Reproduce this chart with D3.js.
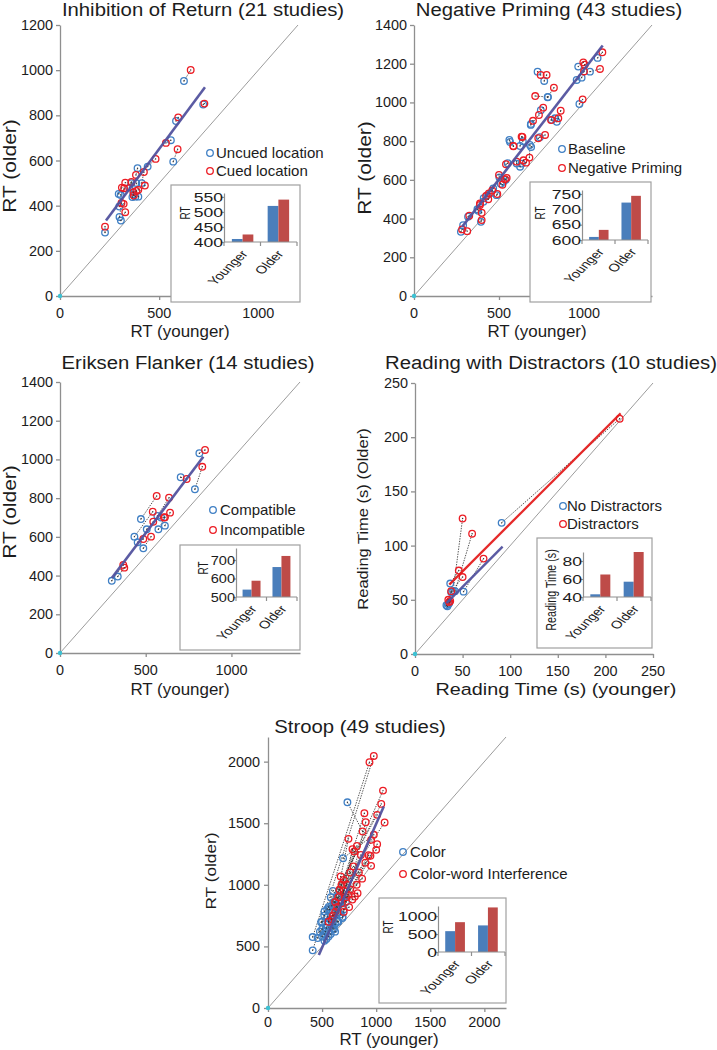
<!DOCTYPE html>
<html><head><meta charset="utf-8">
<script src="https://cdn.jsdelivr.net/npm/d3@7"></script>
<style>
body{margin:0;background:#fff}
svg{display:block}
text{font-family:Arial,"Liberation Sans",sans-serif;fill:#1c1c1c}
</style>
</head><body>
<svg id="c" width="717" height="1050"></svg>
<script>
// ---------------- DATA ----------------
const barCategories = ["Younger", "Older"];

// pairs: [baseline younger, baseline older, condition younger, condition older]
const iorNames = ["Uncued location", "Cued location"];
const iorPairs = [
  [227,281, 227,307],[625,952, 659,1001],[722,848, 728,852],[585,775, 596,791],
  [559,690, 534,678],[571,595, 593,650],[442,573, 482,607],[391,566, 383,536],
  [412,500, 423,549],[360,500, 329,502],[306,447, 323,477],[296,452, 312,480],
  [380,440, 428,489],[370,450, 372,445],[365,438, 385,465],[299,396, 321,408],
  [307,334, 329,371],[300,350, 310,412],[395,440, 370,460],[350,480, 360,505],
  [385,500, 395,470]
];
const iorFit = [[232,334],[731,924]];
const iorBarBase = [410, 520];
const iorBarCond = [425, 541];

const npNames = ["Baseline", "Negative Priming"];
const npPairs = [
  [276,332, 283,344],[289,366, 313,335],[318,410, 325,415],[394,383, 398,392],
  [378,440, 388,478],[373,448, 398,430],[408,487, 388,470],[410,505, 437,500],
  [447,529, 424,517],[466,556, 460,545],[486,521, 490,527],[502,613, 500,625],
  [526,590, 535,603],[510,580, 520,575],[551,686, 541,681],[565,796, 585,774],
  [604,684, 604,694],[624,668, 644,701],[634,684, 659,689],[624,775, 638,822],
  [561,806, 584,775],[682,780, 679,715],[689,770, 731,815],[687,884, 735,935],
  [740,820, 771,832],[788,1028, 713,1033],[727,1159, 745,1142],[766,1111, 780,1142],
  [746,960, 760,973],[829,918, 849,918],[810,910, 806,909],[840,900, 863,957],
  [786,1027, 823,1076],[966,1185, 996,1207],[957,1116, 1004,1195],[986,1128, 1000,1160],
  [1035,1159, 1094,1173],[1080,1230, 1108,1259],[973,992, 992,1016],[688,889, 700,905],
  [640,800, 633,823],[540,600, 545,610],[430,520, 440,530]
];
const npFit = [[283,357],[1110,1294]];
const npBarBase = [610, 722];
const npBarCond = [633, 744];

const efNames = ["Compatible", "Incompatible"];
const efPairs = [
  [302,373, 369,455],[337,395, 375,441],[472,692, 564,811],[434,601, 541,730],
  [453,572, 486,589],[486,541, 531,601],[506,639, 544,678],[568,708, 636,802],
  [574,639, 612,701],[612,658, 642,725],[590,700, 606,700],[704,908, 739,899],
  [787,846, 830,962],[813,1032, 846,1049]
];
const efFit = [[302,387],[836,1014]];
const efBarBase = [540, 662];
const efBarCond = [588, 722];

const rdNames = ["No Distractors", "Distractors"];
const rdPairs = [
  [91,121, 215,217],[40,58, 50,125],[42,58, 60,111],[51,57.5, 72,88],
  [37,65, 46,77],[38,57, 50,71],[35,46, 37,49],[34,44, 36,48],
  [33,45, 35,50],[36,47, 38,58]
];
const rdFitBase = [[33,47],[92,99]];
const rdFitCond = [[36,64],[216,222]];
const rdBarBase = [43, 57];
const rdBarCond = [65, 90];

const stNames = ["Color", "Color-word Interference"];
const stPairs = [
  [413,468, 978,2046],[413,576, 938,1995],[459,568, 1063,1765],[491,697, 1047,1657],
  [522,784, 1009,1568],[547,803, 1078,1506],[522,546, 891,1581],[688,730, 903,1508],
  [734,1670, 875,1433],[694,1216, 978,1406],[500,640, 953,1365],[520,600, 1009,1330],
  [540,650, 1000,1284],[560,700, 947,1235],[580,720, 953,1154],[600,750, 744,1373],
  [620,680, 822,1316],[640,700, 781,1289],[560,620, 797,1270],[500,580, 859,1243],
  [530,680, 672,1068],[550,740, 700,1040],[570,800, 730,1000],[590,830, 760,960],
  [610,860, 828,932],[630,820, 803,905],[650,780, 750,819],[670,760, 780,880],
  [690,740, 700,950],[600,650, 720,900],[620,620, 650,900],[580,600, 680,850],
  [540,560, 640,820],[560,580, 620,780],[600,700, 700,780],[640,900, 600,750],
  [660,850, 760,1100],[580,900, 790,1150],[600,950, 840,1100],[560,820, 870,1050],
  [520,750, 900,1180],[480,620, 930,1240],[500,700, 680,1000],[700,800, 740,920],
  [720,860, 660,960],[650,700, 620,860],[610,640, 590,720],[590,680, 560,700],
  [530,620, 820,1000]
];
const stFit = [[470,430],[1070,1635]];
const stBarBase = [580, 740];
const stBarCond = [830, 1240];

// ---------------- STYLE ----------------
const BLUE = "#3f7fc4", RED = "#ec1c24", FIT = "#52529e", AXIS = "#8f8f8f";
const BARB = "#4a7ebb", BARR = "#be4b48";

const svg = d3.select("#c");

function txt(g, s, x, y, o = {}) {
  let tr = `translate(${x},${y})`;
  if (o.sx && o.sx !== 1) tr += ` scale(${o.sx},1)`;
  if (o.rot) tr += ` rotate(${o.rot})`;
  if ((o.kx && o.kx !== 1) || (o.ky && o.ky !== 1)) tr += ` scale(${o.kx || 1},${o.ky || 1})`;
  return g.append("text").attr("transform", tr)
    .attr("font-size", o.size || 13)
    .attr("text-anchor", o.anchor || "start")
    .attr("dy", o.dy || 0)
    .text(s);
}

const panels = [
  { title: "Inhibition of Return (21 studies)", tx: 203, ty: 16,
    x0: 60, x1: 298, y0: 296, y1: 25, dom: 1200, xt: [0,500,1000], yt: d3.range(0,1201,200), ylx: 7, xtOff: 22,
    pairs: iorPairs, fits: [[iorFit, FIT, 2.6]],
    xl: "RT (younger)", xlx: 180, xly: 337, xls: 16, xlsx: 1.06,
    yl: "RT (older)", ylxx: 16, yly: 166, yls: 21,
    leg: { x: 210, y: 153, dy: 18, tx: 216, names: iorNames },
    inset: { box: [171,185,300,302], l: 224, r: 297, b: 242, t: 193, dom: [400,563], ticks: [400,450,500,550], tsx: 1.35,
      base: iorBarBase, cond: iorBarCond, lab: "RT", labx: 190, laby: 213, labs: 10 } },
  { title: "Negative Priming (43 studies)", tx: 549, ty: 16,
    x0: 414, x1: 652, y0: 296, y1: 25, dom: 1400, xt: [0,500,1000], yt: d3.range(0,1401,200), ylx: 7, xtOff: 22,
    pairs: npPairs, fits: [[npFit, FIT, 2.6]],
    xl: "RT (younger)", xlx: 537, xly: 337, xls: 16, xlsx: 1.06,
    yl: "RT (older)", ylxx: 371, yly: 168, yls: 21,
    leg: { x: 562, y: 149, dy: 19, tx: 568, names: npNames },
    inset: { box: [530,182,651,302], l: 582, r: 648, b: 240, t: 190, dom: [600,763], ticks: [600,650,700,750], tsx: 1.35,
      base: npBarBase, cond: npBarCond, lab: "RT", labx: 545, laby: 213, labs: 10 } },
  { title: "Eriksen Flanker (14 studies)", tx: 188, ty: 369,
    x0: 60, x1: 300, y0: 653, y1: 382, dom: 1400, xt: [0,500,1000], yt: d3.range(0,1401,200), ylx: 7, xtOff: 22,
    pairs: efPairs, fits: [[efFit, FIT, 2.6]],
    xl: "RT (younger)", xlx: 180, xly: 695, xls: 16, xlsx: 1.06,
    yl: "RT (older)", ylxx: 16, yly: 512, yls: 21,
    leg: { x: 213, y: 510, dy: 20, tx: 220, names: efNames },
    inset: { box: [180,545,300,650], l: 236, r: 297, b: 597, t: 548, dom: [500,765], ticks: [500,600,700], tsx: 1.12,
      base: efBarBase, cond: efBarCond, lab: "RT", labx: 208, laby: 568, labs: 10 } },
  { title: "Reading with Distractors (10 studies)", tx: 551, ty: 369,
    x0: 415, x1: 653, y0: 654, y1: 383, dom: 250, xt: d3.range(0,251,50), yt: d3.range(0,251,50), ylx: 7, xtOff: 22,
    pairs: rdPairs, fits: [[rdFitBase, FIT, 2.4], [rdFitCond, "#e41e1e", 2.2]],
    xl: "Reading Time (s)  (younger)", xlx: 556, xly: 695, xls: 16.5, xlsx: 1.2,
    yl: "Reading Time (s)  (Older)", ylxx: 368, yly: 519, yls: 16.5,
    leg: { x: 563, y: 506, dy: 18, tx: 567, names: rdNames },
    inset: { box: [537,538,652,648], l: 583, r: 651, b: 597, t: 552, dom: [40,90], ticks: [40,60,80], tsx: 1.35,
      base: rdBarBase, cond: rdBarCond, lab: "Reading Time (s)", labx: 556, laby: 590, labs: 10.7 } },
  { title: "Stroop (49 studies)", tx: 360, ty: 733,
    x0: 268, x1: 506, y0: 1008, y1: 737, dom: 2200, xt: d3.range(0,2001,500), yt: d3.range(0,2001,500), ylx: 8, xtOff: 19,
    pairs: stPairs, fits: [[stFit, FIT, 2.6]],
    xl: "RT (younger)", xlx: 389, xly: 1045, xls: 16, xlsx: 1.06,
    yl: "RT (older)", ylxx: 216, yly: 871, yls: 17.3,
    leg: { x: 403, y: 852, dy: 22, tx: 410, names: stNames },
    inset: { box: [379,898,506,1003], l: 438, r: 505, b: 952, t: 906, dom: [0,1280], ticks: [0,500,1000], tsx: 1.35,
      base: stBarBase, cond: stBarCond, lab: "RT", labx: 393, laby: 927, labs: 10 } }
];

panels.forEach(p => {
  const g = svg.append("g");
  const x = d3.scaleLinear().domain([0, p.dom]).range([p.x0, p.x1]);
  const y = d3.scaleLinear().domain([0, p.dom]).range([p.y0, p.y1]);

  // diagonal
  g.append("line").attr("x1", x(0)).attr("y1", y(0)).attr("x2", x(p.dom)).attr("y2", y(p.dom))
    .attr("stroke", "#9c9c9c").attr("stroke-width", 1);

  // axes
  const ax = g.append("g").attr("transform", `translate(0,${p.y0})`)
    .call(d3.axisBottom(x).tickValues(p.xt).tickSize(4).tickSizeOuter(0).tickFormat(() => ""));
  const ay = g.append("g").attr("transform", `translate(${p.x0},0)`)
    .call(d3.axisLeft(y).tickValues(p.yt).tickSize(4).tickSizeOuter(0).tickFormat(() => ""));
  [ax, ay].forEach(a => { a.selectAll("path,line").attr("stroke", AXIS).attr("stroke-width", 1.3); });

  p.xt.forEach(v => txt(g, String(v), x(v), p.y0 + p.xtOff, { size: 14, sx: 1.03, anchor: "middle" }));
  p.yt.forEach(v => txt(g, String(v), p.x0 - p.ylx, y(v) + 5, { size: 14, sx: 1.03, anchor: "end" }));

  // title and labels
  txt(g, p.title, p.tx, p.ty, { size: 19, sx: 1.07, anchor: "middle" });
  txt(g, p.xl, p.xlx, p.xly, { size: p.xls, sx: p.xlsx, anchor: "middle" });
  txt(g, p.yl, p.ylxx, p.yly, { size: p.yls, rot: -90, ky: 0.85, anchor: "middle" });

  // connectors
  g.append("g").selectAll("line").data(p.pairs).join("line")
    .attr("x1", d => x(d[0])).attr("y1", d => y(d[1]))
    .attr("x2", d => x(d[2])).attr("y2", d => y(d[3]))
    .attr("stroke", "#2a2a2a").attr("stroke-width", 0.8).attr("stroke-dasharray", "1.4,1.2");

  // markers
  const mk = (cx, cy, col) => {
    g.append("g").selectAll("circle").data(p.pairs).join("circle")
      .attr("cx", d => x(d[cx])).attr("cy", d => y(d[cy])).attr("r", 3.3)
      .attr("fill", "none").attr("stroke", col).attr("stroke-width", 1.3);
    g.append("g").selectAll("circle").data(p.pairs).join("circle")
      .attr("cx", d => x(d[cx])).attr("cy", d => y(d[cy])).attr("r", 0.7)
      .attr("fill", "#333");
  };
  mk(0, 1, BLUE);
  mk(2, 3, RED);

  // fit lines
  p.fits.forEach(([pts, col, w]) => {
    g.append("path").datum(pts)
      .attr("d", d3.line().x(d => x(d[0])).y(d => y(d[1])))
      .attr("stroke", col).attr("stroke-width", w).attr("fill", "none").attr("opacity", 0.95);
  });

  // origin marker
  g.append("circle").attr("cx", x(0)).attr("cy", y(0)).attr("r", 2.2).attr("fill", "#3cc2d4");

  // legend
  p.leg.names.forEach((n, i) => {
    const ly = p.leg.y + i * p.leg.dy;
    g.append("circle").attr("cx", p.leg.x).attr("cy", ly).attr("r", 3.3)
      .attr("fill", "none").attr("stroke", i ? RED : BLUE).attr("stroke-width", 1.3);
    txt(g, n, p.leg.tx, ly + 5.3, { size: 15 });
  });

  // inset
  const ins = p.inset;
  g.append("rect").attr("x", ins.box[0]).attr("y", ins.box[1])
    .attr("width", ins.box[2] - ins.box[0]).attr("height", ins.box[3] - ins.box[1])
    .attr("fill", "#fff").attr("stroke", "#a0a0a0").attr("stroke-width", 1.2);
  const bx = d3.scaleBand().domain(barCategories).range([ins.l, ins.r]).paddingInner(0.4).paddingOuter(0.22);
  const by = d3.scaleLinear().domain(ins.dom).range([ins.b, ins.t]);
  const sub = d3.scaleBand().domain([0, 1]).range([0, bx.bandwidth()]);
  const vals = [ins.base, ins.cond];
  [BARB, BARR].forEach((col, s) => {
    g.append("g").selectAll("rect").data(barCategories).join("rect")
      .attr("x", c => bx(c) + sub(s)).attr("width", sub.bandwidth())
      .attr("y", (c, i) => by(vals[s][i])).attr("height", (c, i) => ins.b - by(vals[s][i]))
      .attr("fill", col);
  });
  const iy = g.append("g").attr("transform", `translate(${ins.l},0)`)
    .call(d3.axisLeft(by).tickValues(ins.ticks).tickSize(3).tickSizeOuter(0).tickFormat(() => ""));
  iy.selectAll("path,line").attr("stroke", AXIS).attr("stroke-width", 1.2);
  g.append("line").attr("x1", ins.l).attr("x2", ins.r).attr("y1", ins.b).attr("y2", ins.b)
    .attr("stroke", AXIS).attr("stroke-width", 1.2);
  [ins.l, (bx("Younger") + bx.bandwidth() + bx("Older")) / 2, ins.r].forEach(tx =>
    g.append("line").attr("x1", tx).attr("x2", tx).attr("y1", ins.b).attr("y2", ins.b + 4)
      .attr("stroke", AXIS).attr("stroke-width", 1.2));
  ins.ticks.forEach(v => txt(g, String(v), ins.l - 1, by(v) + 4.6, { size: 13, sx: ins.tsx, anchor: "end" }));
  txt(g, ins.lab, ins.labx, ins.laby, { size: ins.labs, sx: 1.4, rot: -90, anchor: "middle" });
  barCategories.forEach(c => {
    txt(g, c, bx(c) + bx.bandwidth() / 2 + 6, ins.b + 12, { size: 11, sx: 1.35, rot: -52, anchor: "end" });
  });
});
</script>
</body></html>
